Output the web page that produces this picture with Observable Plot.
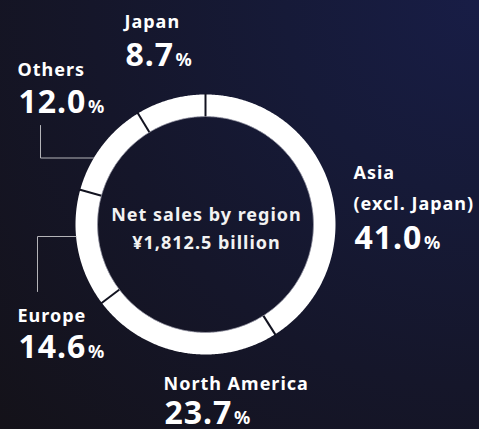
<!DOCTYPE html>
<html><head><meta charset="utf-8">
<script src="https://cdn.jsdelivr.net/npm/d3@7"></script>
<script src="https://cdn.jsdelivr.net/npm/@observablehq/plot@0.6"></script>
<style>
html,body{margin:0;padding:0;}
body{width:479px;height:429px;overflow:hidden;
 background:radial-gradient(circle at 100% 0%, #181d46 0%, #161a38 30%, #15162a 60%, #141219 100%);}
#chart svg{display:block;background:transparent;}
g[aria-description="names"] text{letter-spacing:1px;}
g[aria-description="pct"] text{letter-spacing:1px;}
g[aria-description="center"] text{letter-spacing:1px;}
</style></head><body><div id="chart"></div>
<script>
// ---- data ----
const regions = ["Asia (excl. Japan)", "North America", "Europe", "Others", "Japan"];
const nameLines = [["Asia", "(excl. Japan)"], ["North America"], ["Europe"], ["Others"], ["Japan"]];
const shares = [41.0, 23.7, 14.6, 12.0, 8.7];
const totalLabel = "Net sales by region";
const totalValue = "¥1,812.5 billion";

// ---- layout (pixels) ----
const W = 479, H = 429, cx = 205, cy = 224, rOuter = 130, rInner = 108;
const labelLayout = [
  {x: 353, nameY: [178, 209], pctY: 248},
  {x: 163, nameY: [389], pctY: 423},
  {x: 17,  nameY: [321], pctY: 357},
  {x: 17,  nameY: [75],  pctY: 112},
  {x: 124, nameY: [27],  pctY: 65}
];
const leaderLayout = [
  {region: "Others", pts: [[40, 125], [40, 157.5], [93, 157.5]]},
  {region: "Europe", pts: [[37, 291], [37, 236], [75.5, 236]]}
];
const centerLayout = {x: 206, y: [220, 248]};

// ---- derived from data ----
const total = d3.sum(shares);
let acc = 0;
const segs = regions.map((r, i) => {
  const a0 = acc / total * 2 * Math.PI;
  acc += shares[i];
  const a1 = acc / total * 2 * Math.PI;
  return {region: r, share: shares[i], a0, a1};
});
const polar = (a, r) => [cx + r * Math.sin(a), cy - r * Math.cos(a)];
const ringPts = [];
for (const s of segs) {
  const n = Math.max(8, Math.ceil((s.a1 - s.a0) / (Math.PI / 360)));
  for (let k = 0; k <= n; k++) {
    const a = s.a0 + (s.a1 - s.a0) * k / n;
    const [x, y] = polar(a, rOuter); ringPts.push({region: s.region, x, y});
  }
  for (let k = n; k >= 0; k--) {
    const a = s.a0 + (s.a1 - s.a0) * k / n;
    const [x, y] = polar(a, rInner); ringPts.push({region: s.region, x, y});
  }
}
const seps = segs.map(s => {
  const [x1, y1] = polar(s.a0, rInner - 1);
  const [x2, y2] = polar(s.a0, rOuter + 1);
  return {x1, y1, x2, y2};
});
const nameRows = [];
segs.forEach((s, i) => nameLines[i].forEach((t, j) =>
  nameRows.push({text: t, x: labelLayout[i].x, y: labelLayout[i].nameY[j]})));
const pctRows = segs.map((s, i) => ({text: s.share.toFixed(1), x: labelLayout[i].x + 1, y: labelLayout[i].pctY}));
const leaderPts = leaderLayout.flatMap(l => l.pts.map(([x, y]) => ({region: l.region, x, y})));
const centerRows = [totalLabel, totalValue].map((t, j) => ({text: t, x: centerLayout.x, y: centerLayout.y[j]}));

const font = "'Noto Sans', 'Open Sans', sans-serif";
const plot = Plot.plot({
  width: W, height: H,
  margin: 0,
  x: {domain: [0, W], range: [0, W], axis: null},
  y: {domain: [0, H], range: [0, H], axis: null},
  style: {background: "transparent", fontFamily: font, color: "white"},
  marks: [
    Plot.line(ringPts, {x: "x", y: "y", z: "region", fill: "white", stroke: "none", curve: "linear-closed"}),
    Plot.link(seps, {x1: "x1", y1: "y1", x2: "x2", y2: "y2", stroke: "#121320", strokeWidth: 2}),
    Plot.dot([0], {x: () => cx, y: () => cy, r: rInner, fill: "none", stroke: "#9c9cab", strokeWidth: 0.7}),
    Plot.line(leaderPts, {x: "x", y: "y", z: "region", stroke: "#b4b4b8", strokeWidth: 1}),
    Plot.text(nameRows, {x: "x", y: "y", text: "text", textAnchor: "start", lineAnchor: "bottom",
      fill: "white", fontSize: 18, fontWeight: "bold", ariaDescription: "names"}),
    Plot.text(pctRows, {x: "x", y: "y", text: "text", textAnchor: "start", lineAnchor: "bottom",
      fill: "white", fontSize: 32, fontWeight: "bold", ariaDescription: "pct"}),
    Plot.text(centerRows, {x: "x", y: "y", text: "text", textAnchor: "middle", lineAnchor: "bottom",
      fill: "#f2f2f2", fontSize: 18, fontWeight: "bold", ariaDescription: "center"})
  ]
});
plot.querySelectorAll('g[aria-description="pct"] text').forEach(t => {
  const ts = document.createElementNS("http://www.w3.org/2000/svg", "tspan");
  ts.setAttribute("font-size", "18");
  ts.setAttribute("dx", "1.5");
  ts.setAttribute("style", "letter-spacing:0");
  ts.textContent = "%";
  t.appendChild(ts);
});
document.getElementById("chart").appendChild(plot);
</script>
</body></html>
